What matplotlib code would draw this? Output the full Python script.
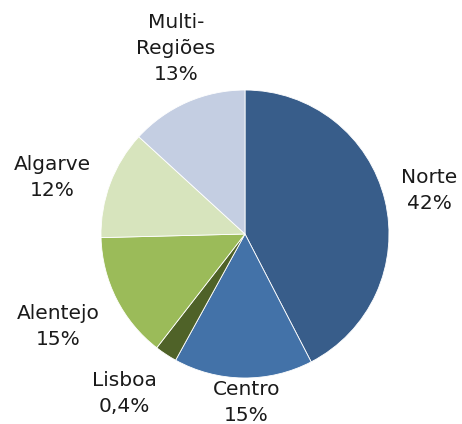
import numpy as np
import matplotlib
matplotlib.use("Agg")
import matplotlib.pyplot as plt

# slice sizes (share of the circle, %)
regions = ["Norte", "Centro", "Lisboa", "Alentejo", "Algarve", "Multi-\nRegiões"]
shares = [42.4, 15.6, 2.5, 14.1, 12.2, 13.2]
pct_labels = ["42%", "15%", "0,4%", "15%", "12%", "13%"]
colors = ["#385D8A", "#4372A8", "#4F6228", "#9BBB59", "#D7E4BD", "#C4CEE2"]

# label positions in pie-radius units
label_pos = [(1.28, 0.30), (0.01, -1.17), (-0.84, -1.11),
             (-1.30, -0.64), (-1.34, 0.39), (-0.48, 1.29)]

fig = plt.figure(figsize=(4.62, 4.24), dpi=100)
ax = fig.add_axes([0.2186, 0.1085, 0.6234, 0.6792])
ax.pie(shares, colors=colors, startangle=90, counterclock=False,
       wedgeprops=dict(edgecolor="white", linewidth=0.6))
ax.set_xlim(-1, 1); ax.set_ylim(-1, 1)
ax.set_aspect("equal")
for name, pct, (x, y) in zip(regions, pct_labels, label_pos):
    ax.text(x, y, f"{name}\n{pct}", ha="center", va="center", fontsize=14.5,
            family="DejaVu Sans", color="#1a1a1a", linespacing=1.45, clip_on=False)
fig.savefig("out.png", dpi=100)
